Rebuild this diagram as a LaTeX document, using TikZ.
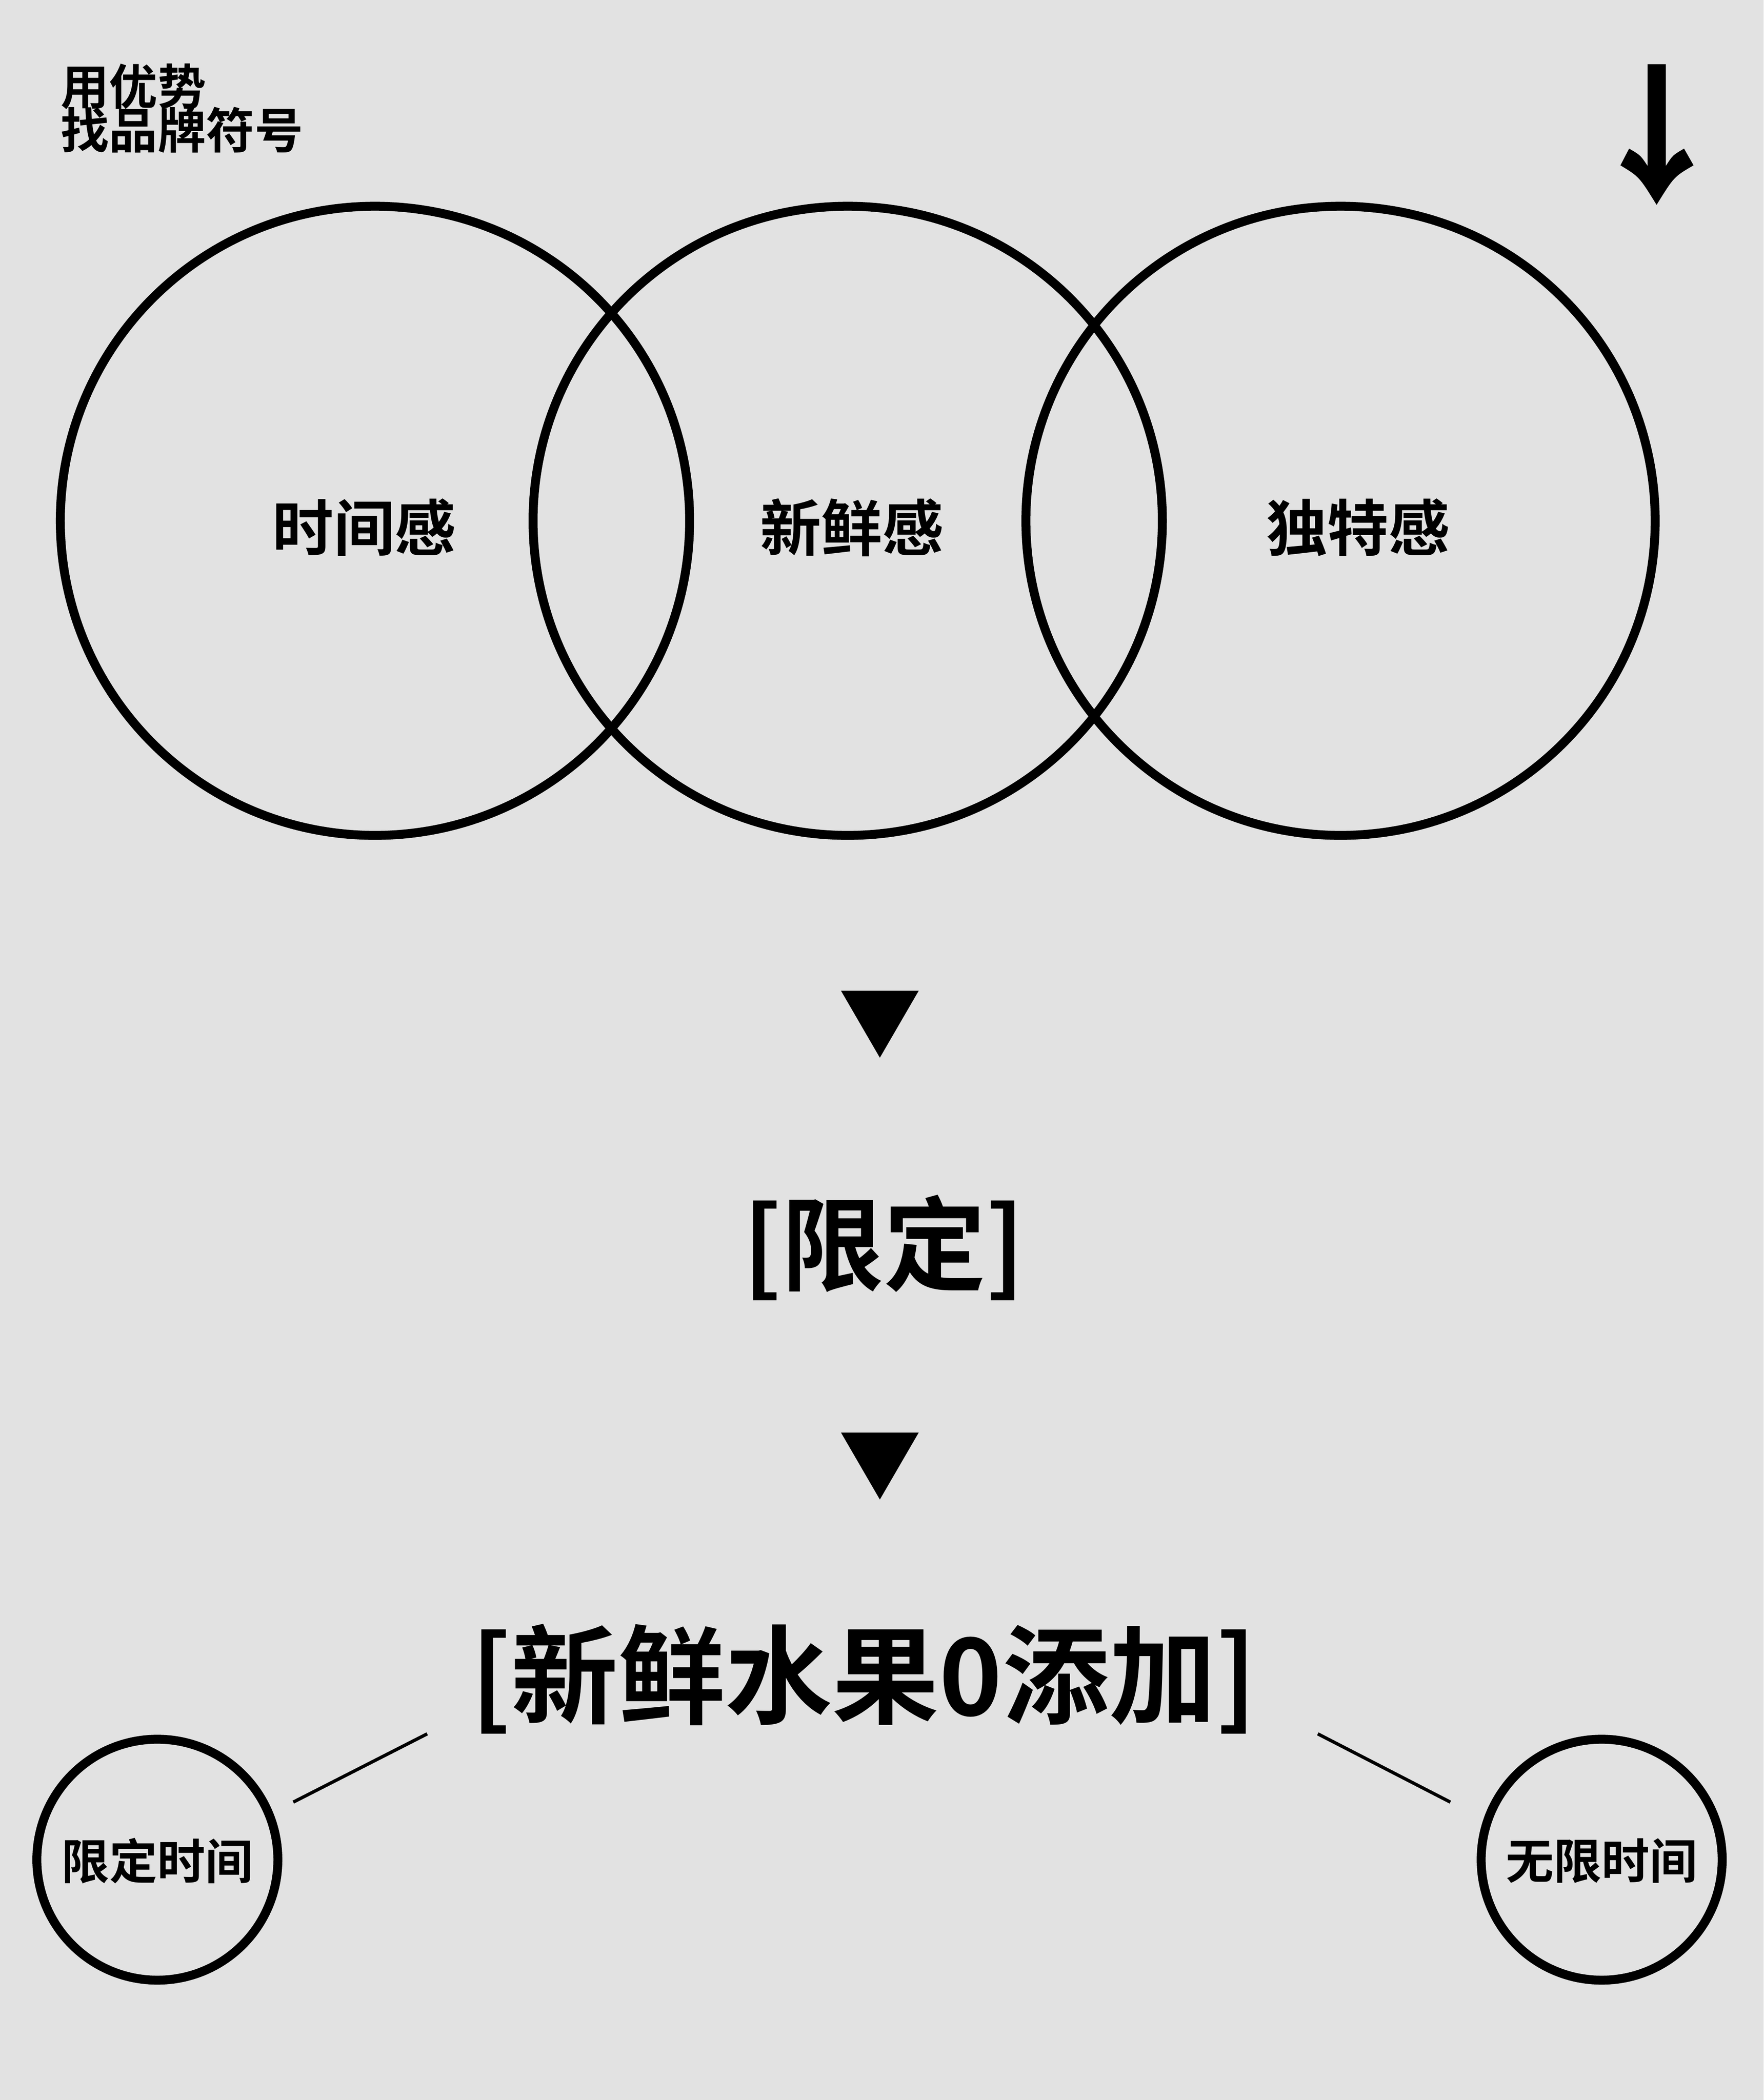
\documentclass[tikz,border=0pt]{standalone}
\usepackage{fontspec}
\newfontfamily\cjk{Noto Sans CJK SC}[BoldFont={Noto Sans CJK SC Bold}]
\definecolor{paper}{HTML}{E2E2E2}

\begin{document}
\begin{tikzpicture}
	[x=0.02cm,y=-0.02cm,
	 ring/.style={circle,draw,line width=3.8pt,inner sep=0pt,minimum size=9.4cm},
	 dot/.style={circle,draw,line width=3.8pt,inner sep=0pt,minimum size=3.6cm},
	 word/.style={font=\cjk\bfseries\fontsize{26}{26}\selectfont},
	 note/.style={font=\cjk\bfseries\fontsize{20.4}{20.4}\selectfont},
	 head/.style={font=\cjk\bfseries\fontsize{20.6}{20.6}\selectfont,anchor=west,inner sep=0pt}]
    \fill[paper] (0,0) rectangle (1317,1568.5);
    \useasboundingbox (0,0) rectangle (1317,1568.5);

    % heading and arrow
    \node[head] (H1) at (45,64.5) {用优势};
    \node[head] (H2) at (45,97) {找品牌符号};
    \fill (1230.3,48) -- (1243.9,48) -- (1243.9,124) .. controls (1249,116) .. (1257.5,111)
        -- (1264.6,123.5) .. controls (1250,132) .. (1237,153)
        .. controls (1224,132) .. (1210,123.5) -- (1216.5,111)
        .. controls (1225,116) .. (1230.3,124) -- cycle;

    % three circles
    \node[ring] (A) at (280,389) {};
    \node[ring] (B) at (633,389) {};
    \node[ring] (C) at (1001,389) {};
    \node[word] (a) at (272,394) {时间感};
    \node[word] (b) at (636,394) {新鲜感};
    \node[word] (c) at (1014,394) {独特感};

    % steps
    \fill (628,740) -- (686,740) -- (657,790) -- cycle;
    \node[font=\cjk\bfseries\fontsize{43.5}{43.5}\selectfont] (L) at (660,932) {[限定]};
    \fill (628,1070) -- (686,1070) -- (657,1120) -- cycle;
    \node[font=\cjk\bfseries\fontsize{45.5}{45.5}\selectfont] (T) at (645,1254) {[新鲜水果0添加]};

    % two small circles
    \node[dot] (D) at (117.5,1389) {};
    \node[dot] (E) at (1196,1389) {};
    \node[note] (d) at (117.5,1390) {限定时间};
    \node[note] (e) at (1196,1390) {无限时间};
    \coordinate (d1) at (319,1295);
    \coordinate (d2) at (219,1346);
    \coordinate (e1) at (984,1295);
    \coordinate (e2) at (1083,1346);
    \draw[line width=1.4pt] (d1) -- (d2);
    \draw[line width=1.4pt] (e1) -- (e2);

\end{tikzpicture}
\end{document}
